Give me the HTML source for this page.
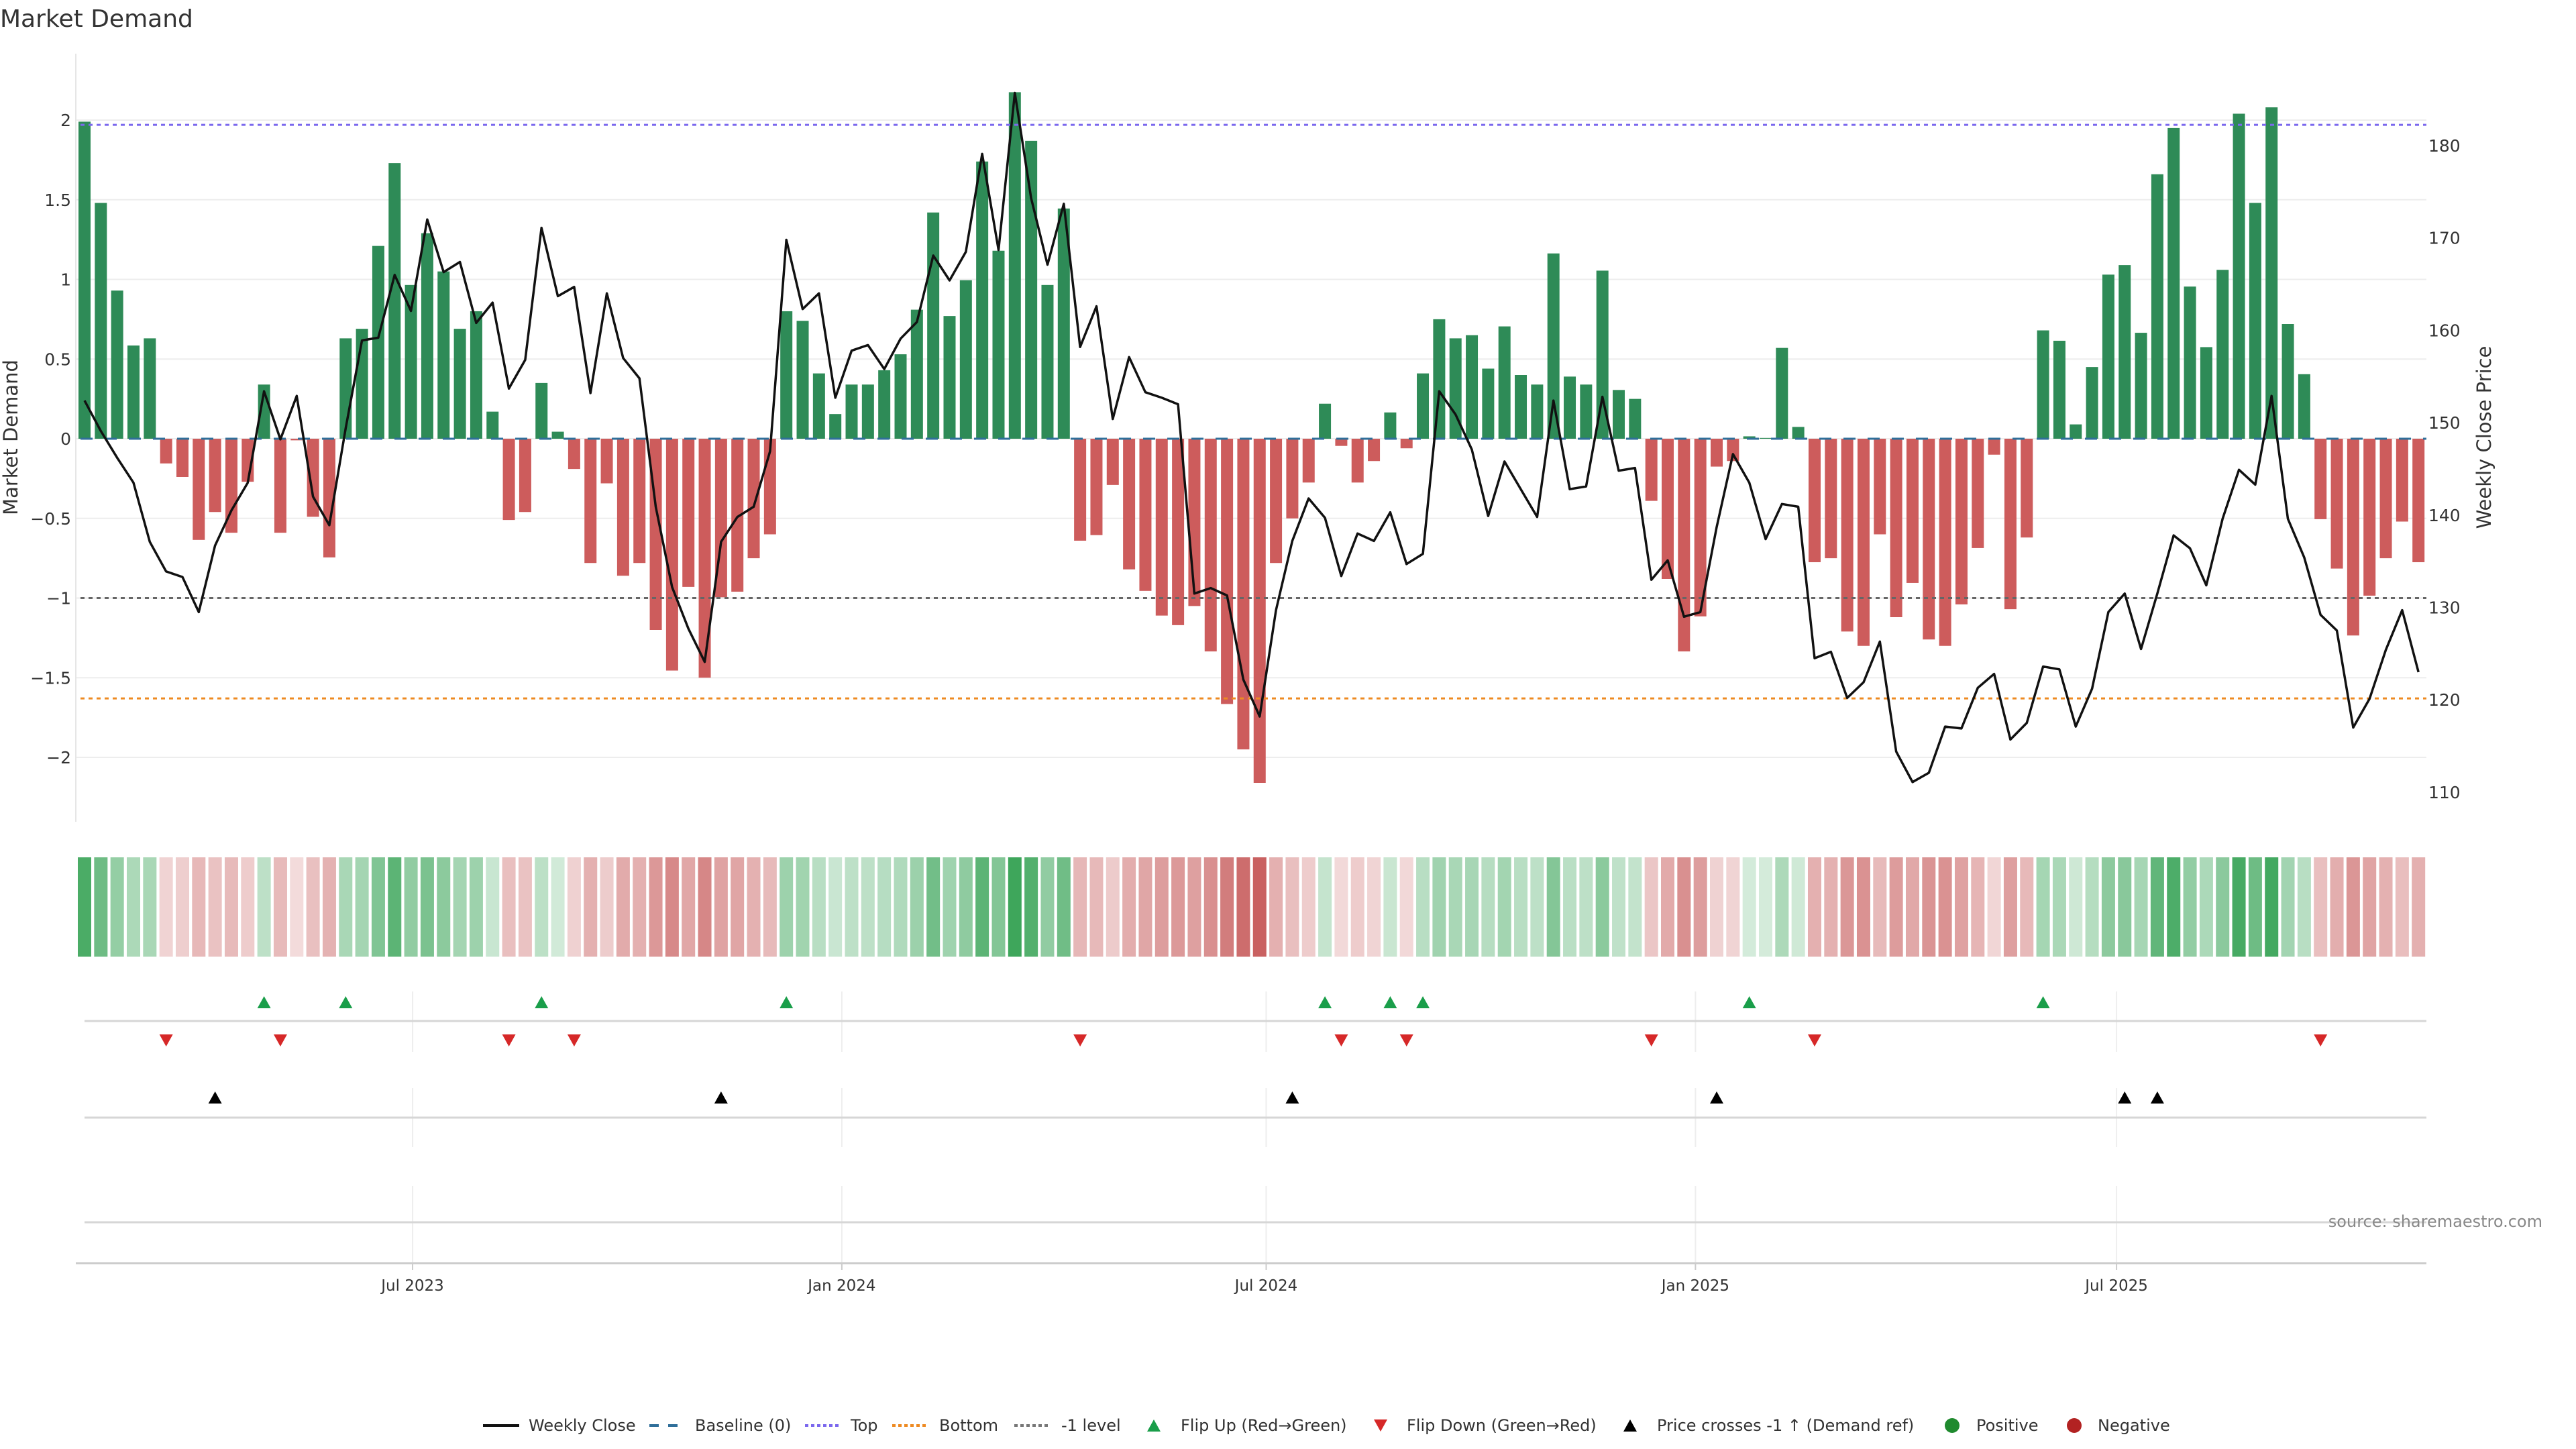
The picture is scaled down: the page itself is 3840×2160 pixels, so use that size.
<!DOCTYPE html>
<html><head><meta charset="utf-8"><title>Market Demand</title>
<style>
html,body{margin:0;padding:0;background:#fff;}
svg{display:block;font-family:"DejaVu Sans","Liberation Sans",sans-serif;}
</style></head>
<body>
<svg id="chart" width="3840" height="2160" viewBox="0 0 3840 2160" xmlns="http://www.w3.org/2000/svg">
<text x="0" y="40" font-size="36" fill="#333">Market Demand</text>
<g id="grid"></g>
<g id="bars"></g>
<g id="levels"></g>
<g id="price"></g>
<g id="heat"></g>
<g id="markers"></g>
<g id="axes"></g>
<g id="legend"></g>
<text x="3790" y="1829" font-size="24" fill="#888" text-anchor="end">source: sharemaestro.com</text>
</svg>
<script>
const demand = [1.99,1.48,0.93,0.585,0.63,-0.155,-0.24,-0.635,-0.46,-0.59,-0.27,0.34,-0.59,-0.01,-0.49,-0.745,0.63,0.69,1.21,1.73,
0.965,1.29,1.05,0.69,0.80,0.17,-0.51,-0.46,0.35,0.044,-0.19,-0.78,-0.28,-0.86,-0.78,-1.2,-1.455,-0.93,-1.50,-0.995,
-0.96,-0.75,-0.60,0.80,0.74,0.41,0.155,0.34,0.34,0.43,0.53,0.81,1.42,0.77,0.995,1.74,1.18,2.175,1.87,0.965,
1.445,-0.64,-0.605,-0.29,-0.82,-0.955,-1.11,-1.17,-1.05,-1.335,-1.665,-1.95,-2.16,-0.78,-0.50,-0.275,0.22,-0.045,-0.275,-0.14,
0.165,-0.06,0.41,0.75,0.63,0.65,0.44,0.705,0.40,0.34,1.163,0.39,0.34,1.055,0.306,0.25,-0.39,-0.88,-1.335,-1.115,
-0.175,-0.14,0.015,0.005,0.57,0.074,-0.775,-0.75,-1.21,-1.30,-0.60,-1.12,-0.905,-1.26,-1.30,-1.04,-0.686,-0.10,-1.07,-0.62,
0.68,0.615,0.09,0.45,1.03,1.09,0.665,1.66,1.95,0.955,0.575,1.06,2.04,1.48,2.08,0.72,0.405,-0.505,-0.815,-1.235,
-0.985,-0.75,-0.52,-0.775];
const closePrice = [152.4,149.1,146.2,143.5,137.1,133.9,133.3,129.5,136.7,140.5,143.5,153.4,148.2,152.9,142.0,138.9,149.4,158.9,159.2,166.0,
162.1,172.0,166.3,167.4,160.8,163.0,153.7,156.8,171.1,163.7,164.7,153.2,164.0,157.0,154.8,140.9,132.2,127.7,124.1,137.1,
139.8,140.9,146.9,169.8,162.3,164.0,152.7,157.8,158.4,155.8,159.1,160.9,168.1,165.4,168.5,179.1,168.7,185.7,174.3,167.1,
173.7,158.2,162.6,150.4,157.1,153.3,152.7,152.0,131.5,132.1,131.3,122.2,118.2,129.7,137.2,141.8,139.7,133.4,138.0,137.2,
140.3,134.7,135.8,153.4,150.9,147.1,139.9,145.8,142.8,139.8,152.4,142.8,143.1,152.8,144.8,145.1,133.0,135.1,129.0,129.5,
138.7,146.6,143.5,137.4,141.2,140.9,124.5,125.2,120.2,121.9,126.3,114.4,111.1,112.1,117.1,116.9,121.3,122.8,115.7,117.5,
123.6,123.3,117.1,121.2,129.5,131.5,125.5,131.5,137.8,136.4,132.4,139.6,144.9,143.3,152.9,139.6,135.4,129.2,127.5,117.0,
120.1,125.4,129.7,123.0];
const leftTicks = [2,1.5,1,0.5,0,-0.5,-1,-1.5,-2];
const leftTickLabels = ["2","1.5","1","0.5","0","\u22120.5","\u22121","\u22121.5","\u22122"];
const rightTicks = [180,170,160,150,140,130,120,110];
const dateTickLabels = ["Jul 2023","Jan 2024","Jul 2024","Jan 2025","Jul 2025"];
const dateTickIndex = [20.1,46.4,72.4,98.7,124.5];
const topLevel = 1.97, bottomLevel = -1.63, minusOneLevel = -1, priceRef = 131.0;

const NS = "http://www.w3.org/2000/svg";
function mk(parent, tag, attrs){const e=document.createElementNS(NS,tag);for(const k in attrs)e.setAttribute(k,attrs[k]);document.getElementById(parent).appendChild(e);return e;}
const X0=126, DX=24.33, XL=113, XR=3617;
const xs = i => X0 + DX*i;
const yL = v => 654 - 237.5*v;
const yR = p => 217 + (180-p)*13.77;

leftTicks.forEach((t,k)=>{
  const g=mk("grid","line",{x1:XL,x2:XR,y1:yL(t),y2:yL(t),stroke:"#ededed","stroke-width":2});
  
  
  const tx=mk("axes","text",{x:106,y:yL(t)+9,"font-size":25,fill:"#333","text-anchor":"end"});
  tx.textContent=leftTickLabels[k];
  
  
});
rightTicks.forEach(t=>{
  const tx=mk("axes","text",{x:3620,y:yR(t)+9,"font-size":25,fill:"#333"});
  tx.textContent=String(t);
  
  
});
let ax=mk("axes","line",{x1:XL,x2:XL,y1:80,y2:1225,stroke:"#e6e6e6","stroke-width":2});


let t1=mk("axes","text",{x:0,y:0,"font-size":29,fill:"#333","text-anchor":"middle",transform:"translate(26,652) rotate(-90)"});
t1.textContent="Market Demand";


let t2=mk("axes","text",{x:0,y:0,"font-size":29,fill:"#333","text-anchor":"middle",transform:"translate(3713,652) rotate(-90)"});
t2.textContent="Weekly Close Price";



demand.forEach((v,i)=>{
  const y=Math.min(yL(v),yL(0)), h=Math.abs(yL(v)-yL(0));
  const b=mk("bars","rect",{x:xs(i)-9,y:y,width:18,height:Math.max(h,1),fill:v>=0?"#2e8b57":"#cd5c5c"});
  
  
});

function level(v,color,dash,w,name){
  const l=mk("levels","line",{x1:120,x2:XR,y1:yL(v),y2:yL(v),stroke:color,"stroke-width":w,"stroke-dasharray":dash});
  
  
}
level(0,"#2f6f9a","18 18",3,"baseline-zero");
level(topLevel,"#7b68ee","6 6",3,"top-level-line");
level(bottomLevel,"#ee8a22","6 6",3,"bottom-level-line");
level(minusOneLevel,"#666","6 6",3,"minus-one-level-line");

const pts=closePrice.map((p,i)=>xs(i).toFixed(1)+","+yR(p).toFixed(1)).join(" ");
const pl=mk("price","polyline",{points:pts,fill:"none",stroke:"#111","stroke-width":3.5,"stroke-linejoin":"round"});



function heatColor(v){
  const a=Math.min(1,0.22+0.78*Math.abs(v)/2.2);
  const base=v>=0?[60,165,90]:[200,95,95];
  return "rgb("+base.map(c=>Math.round(255+(c-255)*a)).join(",")+")";
}
demand.forEach((v,i)=>{
  const r=mk("heat","rect",{x:xs(i)-10,y:1278,width:20,height:148,fill:heatColor(v)});
  
  
});

[[1478,1568],[1622,1710],[1768,1884]].forEach(seg=>{
  dateTickIndex.forEach(di=>{
    const g=mk("grid","line",{x1:xs(di),x2:xs(di),y1:seg[0],y2:seg[1],stroke:"#eeeeee","stroke-width":2});
    
    
  });
});
[1522,1666,1822].forEach(y=>{
  const l=mk("axes","line",{x1:126,x2:XR,y1:y,y2:y,stroke:"#d6d6d6","stroke-width":3});
  
  
});
function tri(x,y,up,color,name){
  const p=up?`${x-10},${y+9} ${x+10},${y+9} ${x},${y-9}`:`${x-10},${y-9} ${x+10},${y-9} ${x},${y+9}`;
  const t=mk("markers","polygon",{points:p,fill:color});
  
  
}
for(let i=1;i<demand.length;i++){
  if(demand[i-1]<0&&demand[i]>=0) tri(xs(i),1494,true,"#1a9e4a","flip-up-marker");
  if(demand[i-1]>=0&&demand[i]<0) tri(xs(i),1551,false,"#d62828","flip-down-marker");
  if(closePrice[i-1]<priceRef&&closePrice[i]>=priceRef) tri(xs(i),1636,true,"#000","price-cross-marker");
}

let xl=mk("axes","line",{x1:XL,x2:XR,y1:1883,y2:1883,stroke:"#cccccc","stroke-width":3});


dateTickLabels.forEach((lab,k)=>{
  const x=xs(dateTickIndex[k]);
  const tk=mk("axes","line",{x1:x,x2:x,y1:1883,y2:1893,stroke:"#ccc","stroke-width":2});
  
  
  const tx=mk("axes","text",{x:x,y:1924,"font-size":23,fill:"#333","text-anchor":"middle"});
  tx.textContent=lab;
  
  
});

const LY=2125;
function legText(x,s){const t=mk("legend","text",{x:x,y:LY+8,"font-size":24,fill:"#333"});t.textContent=s;
  
  }
function legLine(x,color,dash,w){const l=mk("legend","line",{x1:x,x2:x+54,y1:LY,y2:LY,stroke:color,"stroke-width":w,"stroke-dasharray":dash});
  
  }
legLine(720,"#111","none",4); legText(788,"Weekly Close");
legLine(968,"#2f6f9a","14 14",4); legText(1036,"Baseline (0)");
legLine(1200,"#7b68ee","5 4",4); legText(1268,"Top");
legLine(1330,"#ee8a22","5 4",4); legText(1400,"Bottom");
legLine(1512,"#777","5 4",4); legText(1582,"-1 level");
const lt1=mk("legend","polygon",{points:`1710,${LY+9} 1730,${LY+9} 1720,${LY-9}`,fill:"#1a9e4a"});


legText(1760,"Flip Up (Red\u2192Green)");
const lt2=mk("legend","polygon",{points:`2048,${LY-9} 2068,${LY-9} 2058,${LY+9}`,fill:"#d62828"});


legText(2097,"Flip Down (Green\u2192Red)");
const lt3=mk("legend","polygon",{points:`2420,${LY+9} 2440,${LY+9} 2430,${LY-9}`,fill:"#000"});


legText(2470,"Price crosses -1 \u2191 (Demand ref)");
const lc1=mk("legend","circle",{cx:2910,cy:LY,r:11,fill:"#1f8a2e"});


legText(2946,"Positive");
const lc2=mk("legend","circle",{cx:3092,cy:LY,r:11,fill:"#b22222"});


legText(3127,"Negative");
</script>
</body></html>
